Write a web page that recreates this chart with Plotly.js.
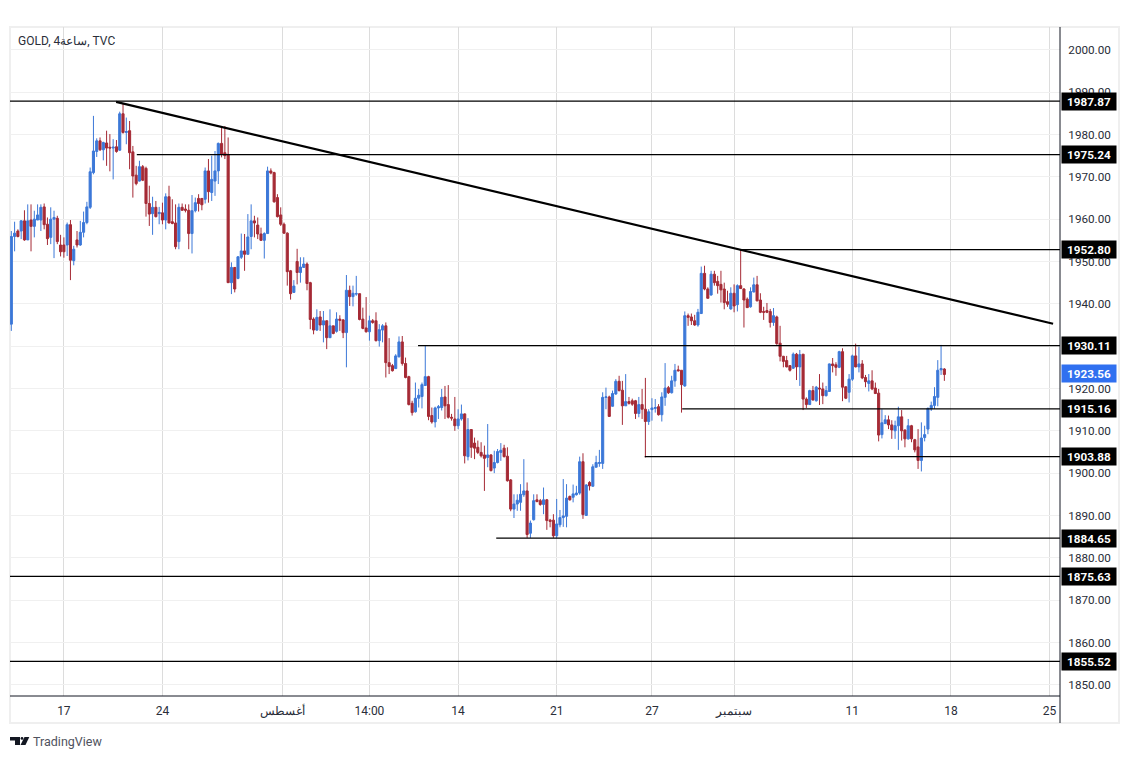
<!DOCTYPE html>
<html>
<head>
<meta charset="utf-8">
<script src="https://cdn.plot.ly/plotly-3.0.1.min.js"></script>
<style>html,body{margin:0;padding:0;background:#fff}#c{width:1130px;height:759px}</style>
</head>
<body>
<div id="c"></div>
<script>
const opens = [
1935.2,1955.9,1957.2,1957.2,1959.6,1955.1,1959.8,1958.3,1959.8,1959.8,1962.9,1958.8,1955.7,1960,1960.2,1953.9,1953.9,1953.9,1958.7,1950.2,
1955.1,1953.9,1956.9,1959.2,1962.8,1971,1976,1978.5,1976.4,1978,1977,1976.8,1977.1,1976.3,1984.9,1980.5,1980.9,1975.9,1970.4,1969,
1972.4,1972,1963.7,1961.3,1962.8,1961.3,1961.5,1959.8,1965.3,1959.4,1959.1,1954.7,1962.8,1962.4,1962.1,1956.6,1962,1964.9,1964.9,1964.7,
1971.4,1966.3,1969,1971.4,1977.9,1975.7,1975.3,1945,1948.6,1946,1951,1952.5,1951.7,1955.9,1959.6,1958.6,1956.5,1955,1956.6,1971.4,
1971,1965.1,1961,1958.8,1956.7,1947.8,1942.7,1950,1947.4,1948.6,1949.4,1945,1936.4,1933.8,1936.9,1935,1936,1932,1934.8,1933.5,
1936.4,1936.2,1933.2,1943.2,1941.7,1942.3,1942.4,1936.4,1934.3,1933.4,1936,1936,1931.3,1933.8,1934.8,1926.1,1925.4,1924.7,1927.5,1931,
1925.9,1922.8,1916.5,1914.5,1917.7,1918.1,1920.7,1922.8,1913.6,1912.1,1915.4,1915.5,1918,1916.2,1913.2,1912.8,1911.2,1912.8,1914,1903.9,
1910.3,1907.1,1906.1,1904.9,1904.3,1903.7,1904.3,1901.2,1902.5,1904.9,1905.9,1904,1898.4,1891.5,1892.7,1893.1,1894.9,1895.8,1885.8,1889,
1893.7,1893.5,1892.6,1893.7,1888.9,1888.9,1885.2,1887.8,1889.5,1889.8,1894.5,1894.3,1894.9,1895.3,1902.7,1890,1897.8,1896.9,1901.4,1902.3,
1902.3,1917.9,1918,1915.8,1918.7,1921.7,1919.6,1915.9,1916.9,1917.1,1917.1,1914.1,1916.2,1915.1,1912.2,1915,1915.3,1915.7,1913.8,1917.9,
1920.2,1919,1921.8,1924.4,1924.3,1920.6,1937.2,1936.9,1936,1935,1937.7,1947.2,1943.5,1942.1,1947,1945.3,1944.6,1943.5,1940.5,1938.8,
1942.5,1939.8,1944.3,1943.5,1941.1,1939.3,1942.8,1944.5,1940.9,1938.2,1938.4,1938.2,1935.6,1936.9,1930.7,1927.6,1926.6,1925.4,1924.8,1928.1,
1925.1,1928.1,1917.5,1916.2,1919.5,1917.1,1920.1,1919.9,1918.3,1919.3,1925.8,1925.6,1925,1928.7,1920.4,1919.1,1922.2,1927.7,1925.1,1925.8,
1922.6,1921.2,1921.8,1920.1,1918.9,1909.1,1911.7,1912.6,1911.4,1910,1911.2,1913.3,1910.2,1908.1,1911.2,1907.9,1906.2,1903,1908.4,1910.4,
1915.2,1916,1917.9,1924.4,1924.6];
const highs = [
1957.2,1959.4,1957.6,1959.8,1962.1,1963.5,1963.5,1962,1963.5,1963.5,1963.7,1960.4,1962.8,1962,1960.8,1956.3,1955.7,1959.2,1959.8,1953.7,
1957.2,1959.6,1961.8,1964.1,1972.2,1984.4,1979.1,1979.3,1978.3,1980.9,1980.1,1978.9,1978.7,1985.4,1987.3,1984,1983.2,1977.3,1972.6,1973.8,
1972.8,1972.4,1967.9,1965.3,1964.3,1962.9,1963.9,1966.1,1967.9,1964.7,1963.5,1963.7,1963.7,1963.5,1963.5,1965.7,1965.1,1965.9,1965,1972.2,
1974.2,1975,1976.1,1978.1,1981.8,1982,1979.3,1949.8,1948.7,1951.3,1956.6,1956.5,1961.2,1963.5,1960.8,1960.4,1958,1956.9,1972.4,1972,
1971.2,1965.9,1962.8,1959.2,1956.9,1948,1945.6,1953,1951,1951,1949.8,1945.2,1936.8,1938.7,1938.3,1938.3,1936.1,1938.7,1934.8,1938,
1937.3,1936.4,1946.8,1944.3,1944.3,1946.6,1942.4,1939.1,1941.6,1937.2,1936.4,1938,1935.2,1935.2,1935.6,1931.9,1925.8,1928.1,1932.3,1932.4,
1927.3,1923,1917.1,1921.4,1919.9,1921.4,1930.1,1923,1915.5,1915.7,1916.1,1919.9,1920.6,1920.8,1914,1918,1915.1,1916.2,1914.1,1913,
1910.4,1908.4,1907.7,1907.3,1906.5,1911.6,1904.5,1905.3,1905.7,1907.1,1906.7,1906.1,1898.6,1895,1895,1897.4,1903.3,1897.8,1888.8,1895,
1895,1893.9,1896.6,1893.9,1889.2,1890.3,1893.9,1891.3,1898.6,1897.4,1894.7,1897.3,1897,1903.9,1904.7,1897.4,1898.1,1902.1,1904.1,1905.5,
1919.1,1920.2,1918.3,1919.5,1922.2,1923,1921.8,1923.4,1918,1917.6,1917.3,1918,1919.9,1922.5,1915.1,1917.7,1917.5,1916.3,1919.1,1926,
1920.6,1923,1925.8,1925.4,1924.3,1938.2,1937.7,1937.7,1937.4,1938.8,1948.8,1949,1943.9,1947.8,1947.8,1946.6,1947.8,1945,1943.1,1943.9,
1944.6,1944.6,1952.8,1943.7,1941.5,1943.9,1946.2,1946.6,1942.5,1939.3,1940.2,1938.8,1939,1937.2,1934.8,1927.7,1927.7,1925.5,1928.5,1928.4,
1929.1,1928.1,1917.9,1919.7,1920.6,1920.6,1923.4,1921.4,1920.6,1925.9,1927.2,1926.2,1928.9,1929.5,1920.5,1923.4,1928,1930.6,1929.9,1926.7,
1923.2,1923.4,1924.3,1921.4,1919.9,1915.1,1913.7,1913.6,1912.5,1912.4,1915.7,1914.9,1910.3,1912.8,1911.4,1908.1,1910.4,1912,1911.2,1915.5,
1916.9,1920.3,1926.7,1930.3,1924.8];
const lows = [
1933.6,1952.4,1955.7,1955.3,1954.9,1955.1,1952.4,1955.7,1959.8,1957.2,1957.6,1953.9,1954.1,1950.8,1954.1,1951.2,1950.9,1951.3,1945.6,1949.1,
1953.3,1953.7,1955.7,1958.8,1962.4,1970.6,1974.7,1976.1,1973.9,1972.6,1971.3,1969.4,1975.7,1976.1,1980.2,1977.7,1971.8,1965.1,1968,1968.9,
1969,1960.6,1958.4,1956.3,1960.4,1958.8,1958.8,1957.6,1959,1958.8,1952.9,1952.9,1962,1961.6,1952.9,1951.9,1961.6,1961.8,1962.1,1963.7,
1963.9,1964.3,1965.5,1968.3,1974.6,1974.2,1945,1942.3,1942.7,1945.8,1950.6,1947.8,1951.6,1952.9,1955.7,1955.3,1954.9,1950.7,1956.5,1970.6,
1963.9,1960.4,1958.4,1956.5,1944.3,1941,1942.6,1944.6,1945,1948.5,1943.2,1934,1932.8,1933.6,1933.6,1930.9,1929.3,1932,1932.8,1933.2,
1933.6,1931.9,1925,1939.5,1939.4,1941.9,1936.1,1934,1933.2,1931.3,1935.3,1931.1,1929.9,1930.9,1922.6,1923.4,1924,1924.6,1927.3,1925.4,
1922.4,1916,1913.6,1914.3,1915.5,1915.3,1920.6,1912.5,1911.7,1910.8,1912.8,1914.8,1912.8,1912.9,1912.4,1910,1910.4,1912.4,1902.3,1903,
1903.6,1903.3,1904.5,1903.7,1895.8,1901.4,1900.4,1900,1902.3,1902.9,1903.7,1898,1891,1889.4,1891.1,1891.1,1894.4,1884.7,1884.7,1888.8,
1893.1,1892.3,1890.3,1886.6,1887.2,1884.7,1884.7,1887.2,1887.3,1887.2,1893.5,1893.1,1894.7,1894.9,1889.2,1890,1895.9,1896.8,1901.4,1901.5,
1901,1915.1,1913.3,1915.7,1918.5,1919.3,1911.4,1915.9,1916.2,1915.9,1912.8,1913.2,1912.8,1903.7,1911.4,1912.4,1914.3,1913.6,1912.2,1915.9,
1918.7,1918.8,1920.4,1924,1914.3,1920.4,1934.8,1935,1934.8,1934.6,1937.6,1943.2,1941.3,1941.9,1944.3,1942.4,1940.3,1938.7,1939.3,1938.6,
1938,1938.2,1943.5,1934.4,1939.1,1939.1,1942.7,1940.6,1937.8,1936.2,1937.8,1934.4,1934.8,1930.3,1926.4,1925,1925,1924,1924.6,1922,
1920.6,1914.9,1915.4,1916.1,1917.1,1916.9,1916.1,1916.3,1918.1,1919.2,1923.8,1923,1924.8,1917,1917.5,1916.7,1921.8,1925,1923.8,1922.2,
1920.3,1919.3,1919.6,1918.7,1907.5,1908.2,1911.6,1910.4,1908.1,1908.1,1905.5,1907.7,1906.1,1907.9,1907.3,1904.9,1901,1900.4,1907.5,1909.2,
1914.7,1915.2,1915.8,1923.2,1921.8];
const closes = [
1955.9,1956.7,1955.9,1959.6,1955.1,1959.6,1958.3,1960,1961,1962.8,1958.7,1955.4,1960,1960.4,1954.7,1952.3,1952.3,1958.7,1950.3,1952.9,
1953.9,1956.9,1959.2,1962.9,1971.2,1976.1,1978.5,1976.4,1978.1,1976.8,1976.8,1977,1976,1984.9,1980.5,1980.7,1975.7,1970.2,1968.4,1972.4,
1969.2,1963.7,1961.2,1962.8,1960.6,1961.6,1959.8,1965.3,1959.1,1959,1953.5,1962.8,1962.1,1962.1,1956.6,1962,1963.9,1963.7,1963.4,1971.4,
1966.5,1969.4,1971.4,1977.9,1975.3,1975,1945,1948.6,1943.5,1951.1,1952.5,1951.7,1955.8,1959.6,1959.1,1956.5,1955,1956.6,1971.4,1970.9,
1964.1,1960.6,1958.8,1956.7,1947.6,1942.4,1944.2,1947.4,1948.7,1949.4,1944.8,1936.3,1933.8,1936.8,1935,1936,1932,1934.8,1933,1936.4,
1936.1,1933.2,1943.2,1941.7,1942.5,1942.4,1936.3,1934.2,1933.4,1936,1935.6,1931.3,1933.9,1934.8,1926.1,1925.2,1924.2,1927.7,1931,1925.9,
1922.6,1916.2,1914.3,1917.7,1918.4,1920.9,1922.8,1913.4,1912.1,1915.4,1915.7,1917.9,1915.9,1913.2,1913,1911.2,1912.8,1914,1904.1,1910.3,
1906.1,1905.9,1904.9,1904.1,1903.5,1904.3,1900.6,1902.5,1905.1,1905.4,1903.9,1898.2,1891.5,1892.7,1893.6,1895,1895.8,1885.5,1888.2,1893.5,
1893.3,1892.6,1893.7,1888.8,1888.6,1885.2,1888,1889.5,1889.9,1894.1,1893.7,1895.1,1895.3,1902.7,1890.2,1897.2,1897,1901.5,1902.5,1902.5,
1917.9,1918,1913.4,1918.8,1921.7,1919.5,1915.9,1916.9,1916.5,1916.3,1914.1,1916.2,1915.1,1912.2,1914.5,1915.4,1915.5,1913.8,1918,1920.1,
1919,1921.8,1924.3,1924.2,1920.9,1937.2,1936.8,1936,1935,1938,1947.2,1943.5,1941.3,1947,1945,1944.3,1943.3,1940.3,1939.9,1942.5,
1939.5,1944.3,1943.6,1940.9,1939.1,1942.9,1944.5,1940.7,1938,1938,1938,1935.6,1937.2,1930.6,1927.6,1926.4,1925.1,1924.3,1928.1,1925.1,
1928,1917.5,1916.2,1919.5,1917.3,1920.3,1919.9,1918.3,1919.5,1925.8,1925.4,1925,1928.7,1920.3,1917.7,1922.2,1927.7,1925.1,1925.8,1922.5,
1921.6,1921.8,1919.9,1918.8,1909,1911.9,1912.6,1911.4,1910.2,1911.2,1913.3,1910,1908.1,1911.2,1908.1,1905.5,1903,1908.3,1909.1,1915.3,
1916,1918.1,1924.3,1924.7,1923.3];
const tickIndex = [16,46,82.4,109,136,166,195,220,256,286,316];
const tickLabels = ['17','24','أغسطس','14:00','14','21','27','سبتمبر','11','18','25'];
const levelPrices = [1987.87,1975.24,1952.80,1930.11,1915.16,1903.88,1884.65,1875.63,1855.52];
const levelStarts = [-0.4,38.2,221.7,123.8,204.2,192.8,147.6,-0.4,-0.4];
const trendIndex = [31.9,317.1];
const trendPrice = [1987.7,1935.3];
const lastPrice = 1923.56;

const W=1130,H=759,L=10,R=1060,T=27,B=696;
const fx=p=>(p-L)/(R-L), fy=p=>1-(p-T)/(B-T);
const xRange=[-0.4,319.2], yRange=[1847.35,2005.4];
const FONT='Roboto, "Open Sans", sans-serif';
const ink='#2a2e39';

const shapes=[];
shapes.push({type:'rect',xref:'paper',yref:'paper',x0:fx(10),x1:fx(1119),y0:fy(27),y1:fy(723),line:{color:'#efefef',width:2},layer:'below'});
levelPrices.forEach((p,i)=>shapes.push({type:'line',xref:'x',yref:'y',x0:levelStarts[i],x1:xRange[1],y0:p,y1:p,line:{color:'#000',width:1.2}}));
shapes.push({type:'line',xref:'x',yref:'y',x0:trendIndex[0],x1:trendIndex[1],y0:trendPrice[0],y1:trendPrice[1],line:{color:'#000',width:2.2}});
shapes.push({type:'line',xref:'paper',yref:'paper',x0:1,x1:1,y0:fy(27),y1:fy(723),line:{color:'#131722',width:1}});
shapes.push({type:'line',xref:'paper',yref:'paper',x0:0,x1:1,y0:0,y1:0,line:{color:'#131722',width:1}});
const P=(x,y)=>fx(x).toFixed(5)+','+fy(y).toFixed(5);
shapes.push({type:'path',xref:'paper',yref:'paper',fillcolor:'#131722',line:{width:0},
  path:'M'+P(10,737)+'L'+P(20,737)+'L'+P(20,745)+'L'+P(15,745)+'L'+P(15,740.5)+'L'+P(10,740.5)+'Z'});
shapes.push({type:'circle',xref:'paper',yref:'paper',fillcolor:'#131722',line:{width:0},x0:fx(20.6),x1:fx(23.4),y0:fy(737),y1:fy(739.8)});
shapes.push({type:'path',xref:'paper',yref:'paper',fillcolor:'#131722',line:{width:0},
  path:'M'+P(24.5,737)+'L'+P(29.3,737)+'L'+P(25.5,745)+'L'+P(20.5,745)+'Z'});

const annotations=[];
levelPrices.forEach(p=>annotations.push({xref:'paper',yref:'y',x:1,y:p,xanchor:'left',yanchor:'middle',xshift:1,
  text:'<b>'+p.toFixed(2)+'</b>',showarrow:false,bgcolor:'#000',width:54,height:17,align:'center',borderpad:0,
  font:{family:FONT,size:11.7,color:'#fff'}}));
annotations.push({xref:'paper',yref:'y',x:1,y:lastPrice,xanchor:'left',yanchor:'middle',xshift:1,
  text:'<b>'+lastPrice.toFixed(2)+'</b>',showarrow:false,bgcolor:'#3070f0',width:54,height:17,align:'center',borderpad:0,
  font:{family:FONT,size:11.7,color:'#fff'}});
annotations.push({xref:'paper',yref:'paper',x:fx(16),y:fy(41),xanchor:'left',yanchor:'middle',showarrow:false,
  text:'GOLD, 4ساعة, TVC',font:{family:FONT,size:12,color:ink}});
annotations.push({xref:'paper',yref:'paper',x:fx(31),y:fy(741),xanchor:'left',yanchor:'middle',showarrow:false,
  text:'TradingView',font:{family:FONT,size:12.5,color:'#50535e'}});

const xs=opens.map((_,i)=>i);
Plotly.newPlot('c',[{
  type:'candlestick',x:xs,open:opens,high:highs,low:lows,close:closes,
  increasing:{line:{color:'#3c78d8',width:1},fillcolor:'#3c78d8'},
  decreasing:{line:{color:'#a52a35',width:1},fillcolor:'#a52a35'},
  whiskerwidth:0,hoverinfo:'skip',showlegend:false
}],{
  width:W,height:H,margin:{l:L,r:W-R,t:T,b:H-B,pad:0},
  paper_bgcolor:'#fff',plot_bgcolor:'#fff',showlegend:false,boxgap:0.2,boxgroupgap:0.2,
  font:{family:FONT,size:12,color:ink},
  xaxis:{type:'linear',range:xRange,tickmode:'array',tickvals:tickIndex,ticktext:tickLabels,tickangle:0,
    showgrid:true,gridcolor:'#dcdcdc',gridwidth:1,zeroline:false,showline:false,
    ticks:'outside',ticklen:4,tickcolor:'rgba(0,0,0,0)',rangeslider:{visible:false},
    tickfont:{family:FONT,size:12,color:ink},fixedrange:true},
  yaxis:{type:'linear',side:'right',range:yRange,tickmode:'linear',tick0:1850,dtick:10,tickformat:'.2f',
    showgrid:true,gridcolor:'#f0f0f0',gridwidth:1,zeroline:false,showline:false,
    ticks:'outside',ticklen:5,tickcolor:'rgba(0,0,0,0)',
    tickfont:{family:FONT,size:11.7,color:ink},fixedrange:true},
  shapes,annotations
},{displayModeBar:false,staticPlot:true});
</script>
</body>
</html>
